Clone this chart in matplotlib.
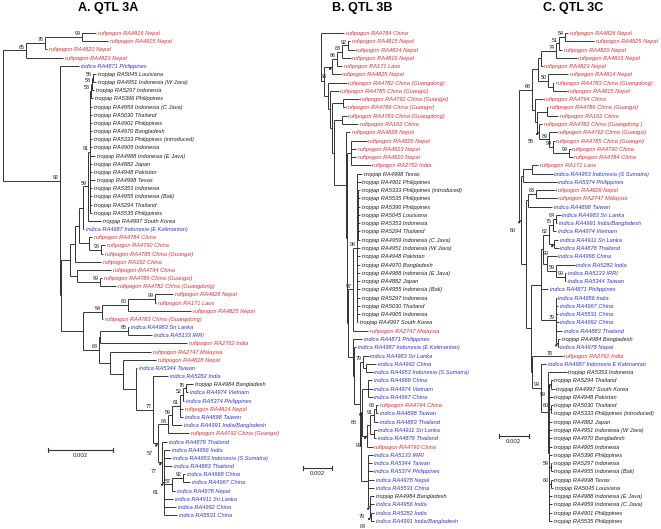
"""Neighbour-joining trees for the three QTL 3 regions (A, B, C)."""

import matplotlib

matplotlib.use("Agg")
import matplotlib.pyplot as plt

# Tree data. Leaf = (label, depth); node = (depth, support, [children]).
# Depth is measured from the root in tree units; a trailing "*" on the
# support value means the value is shown with a small arrow.
# SCALE_* gives the number of tree units that equals 0.002 substitutions/site.

TROP_A = [
    "tropjap RA4959 Indonesia (C Java)", "tropjap RA5030 Thailand",
    "tropjap RA4901 Philippines", "tropjap RA4970 Bangladesh",
    "tropjap RA5333 Philippines (introduced)", "tropjap RA4905 Indonesia",
]
TROP_A_TAIL = [
    "tropjap RA4882 Japan", "tropjap RA4948 Pakistan",
]
TROP_A_END = [
    "tropjap RA5353 Indonesia", "tropjap RA4955 Indonesia (Bali)",
    "tropjap RA5294 Thailand", "tropjap RA5535 Philippines",
]

TREE_A = (0, "", [
    (23, "65", [
        (42, "76", [
            (79, "99", [("rufipogon RA4816 Nepal", 93), ("rufipogon RA4815 Nepal", 105)]),
            ("rufipogon RA4820 Nepal", 44),
        ]),
        ("rufipogon RA4823 Nepal", 60),
    ]),
    (57, "92", [
        ("indica RA4871 Philippines", 76),
        (58, "", [
            (67, "", [
                (72, "", [
                    (76, "", [
                        (80, "", [
                            (85, "59", [
                                (87, "91", [
                                    (88, "53", [
                                        (89, "53", [
                                            (90, "56", [("tropjap RA5045 Louisiana", 93),
                                                        ("tropjap RA4951 Indonesia (W Java)", 93)]),
                                            ("tropjap RA5297 Indonesia", 91),
                                        ]),
                                        ("tropjap RA5396 Philippines", 90),
                                    ]),
                                    *[(n, 89) for n in TROP_A],
                                    ("tropjap RA4988 Indonesia (E Java)", 92),
                                    *[(n, 89) for n in TROP_A_TAIL],
                                    ("tropjap RA4998 Texas", 92),
                                    *[(n, 89) for n in TROP_A_END],
                                ]),
                                ("tropjap RA4997 South Korea", 98),
                            ]),
                            ("indica RA4987 Indonesia (E Kalimantan)", 81),
                        ]),
                        (86, "", [
                            ("rufipogon RA4784 China", 89),
                            (98, "96", [("rufipogon RA4790 China", 102),
                                        ("rufipogon RA4785 China (Guangxi)", 100)]),
                        ]),
                    ]),
                    ("rufipogon RA162 China", 98),
                ]),
                (74, "", [
                    ("rufipogon RA4794 China", 108),
                    (97, "99", [("rufipogon RA4786 China (Guangxi)", 99),
                                ("rufipogon RA4782 China (Guangdong)", 113)]),
                ]),
            ]),
            (80, "", [
                (99, "54", [
                    (125, "80", [
                        (152, "99", [("rufipogon RA4826 Nepal", 170), ("rufipogon RA171 Laos", 153)]),
                        ("rufipogon RA4825 Nepal", 188),
                    ]),
                    ("rufipogon RA4783 China (Guangdong)", 100),
                ]),
                (96, "63", [
                    (97, "", [
                        (125, "65", [("indica RA4983 Sri Lanka", 126), ("indica RA5133 IRRI", 149)]),
                        ("rufipogon RA2762 India", 184),
                    ]),
                    (107, "", [
                        ("rufipogon RA2747 Malaysia", 148),
                        (120, "", [
                            ("rufipogon RA4828 Nepal", 153),
                            (133, "", [
                                ("indica RA5344 Taiwan", 134),
                                (150, "77", [
                                    ("indica RA5282 India", 165),
                                    (155, "57*", [
                                        (165, "84", [
                                            (169, "59", [
                                                (177, "61", [
                                                    (180, "52", [
                                                        (183, "76", [("tropjap RA4984 Bangladesh", 190),
                                                                     ("indica RA4974 Vietnam", 185)]),
                                                        ("indica RA5374 Philippines", 181),
                                                    ]),
                                                    ("rufipogon RA4814 Nepal", 180),
                                                    ("indica RA4898 Taiwan", 180),
                                                ]),
                                                ("indica RA4991 India/Bangladesh", 179),
                                            ]),
                                            ("rufipogon RA4792 China (Guangxi)", 186),
                                        ]),
                                        (159, "77*", [
                                            ("indica RA4878 Thailand", 164),
                                            (161, "61*", [
                                                ("indica RA4956 India", 167),
                                                ("indica RA4953 Indonesia (S Sumatra)", 168),
                                                ("indica RA4883 Thailand", 169),
                                                (169, "57", [
                                                    (180, "92", [("indica RA4968 China", 182),
                                                                 ("indica RA4967 China", 187)]),
                                                    ("indica RA4978 Nepal", 172),
                                                ]),
                                                ("indica RA4911 Sri Lanka", 170),
                                                ("indica RA4992 China", 173),
                                                ("indica RA5531 China", 174),
                                            ]),
                                        ]),
                                    ]),
                                ]),
                            ]),
                        ]),
                    ]),
                ]),
            ]),
        ]),
    ]),
])

TROP_B_CORE = [
    "tropjap RA5333 Philippines (introduced)", "tropjap RA5535 Philippines",
    "tropjap RA5396 Philippines", "tropjap RA5045 Louisiana",
    "tropjap RA5353 Indonesia", "tropjap RA5294 Thailand",
    "tropjap RA4959 Indonesia (C Java)",
]
TROP_B_REST = [
    "tropjap RA4951 Indonesia (W Java)", "tropjap RA4948 Pakistan",
    "tropjap RA4970 Bangladesh", "tropjap RA4988 Indonesia (E Java)",
    "tropjap RA4882 Japan", "tropjap RA4955 Indonesia (Bali)",
    "tropjap RA5297 Indonesia", "tropjap RA5030 Thailand",
]

TREE_B = (0, "", [
    ("rufipogon RA4784 China", 23),
    (3, "", [
        (11, "54*", [
            (16, "86", [
                (21, "83", [
                    (27, "92", [("rufipogon RA4815 Nepal", 28.5), ("rufipogon RA4814 Nepal", 33.5)]),
                    ("rufipogon RA4816 Nepal", 29.5),
                ]),
                ("rufipogon RA171 Laos", 20.5),
            ]),
            ("rufipogon RA4825 Nepal", 19.5),
        ]),
        (7, "", [
            ("rufipogon RA4782 China (Guangdong)", 25.5),
            (9, "", [
                ("rufipogon RA4785 China (Guangxi)", 17.5),
                (11, "", [
                    (22, "", [("rufipogon RA4792 China (Guangxi)", 37.5),
                              ("rufipogon RA4786 China (Guangxi)", 23.5)]),
                    (13, "", [
                        (21, "", [("rufipogon RA4783 China (Guangdong)", 25.5),
                                  ("rufipogon RA162 China", 36.5)]),
                        (25, "", [
                            ("rufipogon RA4828 Nepal", 28.5),
                            (26, "", [
                                (30, "", [("rufipogon RA4826 Nepal", 45.5), ("rufipogon RA4823 Nepal", 34.5),
                                          ("rufipogon RA4820 Nepal", 34.5), ("rufipogon RA2762 India", 49.5)]),
                                (27, "", [
                                    (32, "97", [
                                        (36, "98", [
                                            ("tropjap RA4998 Texas", 41),
                                            ("tropjap RA4901 Philippines", 39.5),
                                            (37, "", [(n, 39) for n in TROP_B_CORE]),
                                            *[(n, 38.5) for n in TROP_B_REST],
                                            ("tropjap RA4905 Indonesia", 39),
                                            ("tropjap RA4997 South Korea", 37),
                                        ]),
                                        ("rufipogon RA2747 Malaysia", 46.5),
                                    ]),
                                    (32, "", [
                                        ("indica RA4871 Philippines", 40.5),
                                        (33, "", [
                                            ("indica RA4987 Indonesia (E Kalimantan)", 34.5),
                                            (39, "", [
                                                (42, "79", [
                                                    ("indica RA4983 Sri Lanka", 47.5),
                                                    (45, "", [("indica RA4992 China", 54.5),
                                                              ("indica RA4953 Indonesia (S Sumatra)", 51.5)]),
                                                ]),
                                                (40, "", [
                                                    (41, "66*", [
                                                        (47, "", [("indica RA4968 China", 50.5),
                                                                  ("indica RA4974 Vietnam", 51.5),
                                                                  ("indica RA4967 China", 51.5)]),
                                                        (46, "99*", [
                                                            (49, "", [
                                                                (53, "91", [
                                                                    (55, "93", [("rufipogon RA4794 China", 56.5),
                                                                                ("indica RA4898 Taiwan", 56.5)]),
                                                                    ("indica RA4883 Thailand", 56.5),
                                                                ]),
                                                                (53, "", [("indica RA4911 Sri Lanka", 55.5),
                                                                          ("indica RA4878 Thailand", 54.5)]),
                                                            ]),
                                                            ("rufipogon RA4790 China", 51.5),
                                                        ]),
                                                    ]),
                                                    (47, "", [
                                                        ("indica RA5133 IRRI", 51.5),
                                                        ("indica RA5344 Taiwan", 50.5),
                                                        ("indica RA5374 Philippines", 51.5),
                                                        ("indica RA4978 Nepal", 52.5),
                                                        ("indica RA5531 China", 52.5),
                                                        (49, "79*", [
                                                            ("tropjap RA4984 Bangladesh", 52.5),
                                                            ("indica RA4956 India", 52.5),
                                                            (50, "84*", [("indica RA5282 India", 52.5),
                                                                         ("indica RA4991 India/Bangladesh", 52.5)]),
                                                        ]),
                                                    ]),
                                                ]),
                                            ]),
                                        ]),
                                    ]),
                                ]),
                            ]),
                        ]),
                    ]),
                ]),
            ]),
        ]),
    ]),
])

TROP_C_MID = [
    "tropjap RA4882 Japan",
    "tropjap RA4951 Indonesia (W Java)", "tropjap RA4970 Bangladesh",
    "tropjap RA4905 Indonesia", "tropjap RA5396 Philippines",
]
TROP_C_END = [
    "tropjap RA4988 Indonesia (E Java)", "tropjap RA4959 Indonesia (C Java)",
    "tropjap RA4901 Philippines", "tropjap RA5535 Philippines",
]

TREE_C = (0, "", [
    (13, "68", [
        (19, "", [
            (22, "", [
                (37, "74", [
                    (40, "51", [
                        (46, "54", [("rufipogon RA4826 Nepal", 48.5), ("rufipogon RA4825 Nepal", 74.5)]),
                        ("rufipogon RA4820 Nepal", 42.5),
                    ]),
                    ("rufipogon RA4816 Nepal", 57.5),
                ]),
                ("rufipogon RA4823 Nepal", 23.5),
            ]),
            (29, "50", [
                ("rufipogon RA4814 Nepal", 48.5),
                (34, "", [("rufipogon RA4783 China (Guangdong)", 34.5), ("rufipogon RA4815 Nepal", 47.5)]),
            ]),
        ]),
        (16, "", [
            ("rufipogon RA4794 China", 23.5),
            (18, "", [
                (28, "", [("rufipogon RA4786 China (Guangxi)", 28.5), ("rufipogon RA162 China", 38.5)]),
                (20, "55*", [
                    ("rufipogon RA4782 China (Guangdong )", 22.5),
                    (30, "89", [
                        ("rufipogon RA4792 China (Guangxi)", 37.5),
                        (34, "99", [
                            ("rufipogon RA4785 China (Guangxi)", 35.5),
                            (50, "99", [("rufipogon RA4790 China", 51.5), ("rufipogon RA4784 China", 53.5)]),
                        ]),
                    ]),
                ]),
            ]),
        ]),
    ]),
    (2, "60*", [
        (4, "", [
            (13, "", [("rufipogon RA171 Laos", 18.5), ("indica RA4953 Indonesia (S Sumatra)", 33.5)]),
            ("indica RA5374 Philippines", 37.5),
        ]),
        (7, "", [
            (9, "", [
                (17, "63", [("rufipogon RA4828 Nepal", 35.5), ("rufipogon RA2747 Malaysia", 37.5)]),
                ("indica RA4898 Taiwan", 32.5),
            ]),
            (12, "", [
                (22, "", [
                    (24, "", [
                        (30, "82", [
                            (34, "75", [
                                (37, "84", [("indica RA4983 Sri Lanka", 41.5),
                                            ("indica RA4991 India/Bangladesh", 38)]),
                                ("indica RA4974 Vietnam", 36.5),
                            ]),
                            (35, "99*", [("indica RA4911 Sri Lanka", 38.5), ("indica RA4878 Thailand", 39.5)]),
                        ]),
                        (28, "", [
                            ("indica RA4968 China", 37.5),
                            (37, "59", [
                                ("indica RA5282 India", 55.5),
                                (46, "99", [("indica RA5133 IRRI", 46.5), ("indica RA5344 Taiwan", 46.5)]),
                            ]),
                        ]),
                    ]),
                    ("indica RA4871 Philippines", 28.5),
                    (37, "79", [
                        ("indica RA4956 India", 37.5),
                        ("indica RA4967 China", 38.5),
                        ("indica RA5531 China", 38.5),
                        ("indica RA4992 China", 39.5),
                        ("indica RA4883 Thailand", 42.5),
                        (39, "78*", [("tropjap RA4984 Bangladesh", 40.5), ("indica RA4978 Nepal", 39.5)]),
                    ]),
                ]),
                (13, "", [
                    ("rufipogon RA2762 India", 43.5),
                    (22, "99", [
                        ("indica RA4987 Indonesia E Kalimantan", 26.5),
                        (29, "", [
                            ("tropjap RA5353 Indonesia", 47.5),
                            (30, "", [
                                (32, "99*", [("tropjap RA5294 Thailand", 33.5),
                                             ("tropjap RA4997 South Korea", 35.5)]),
                                ("tropjap RA4948 Pakistan", 33.5),
                                (31.5, "60", [("tropjap RA5030 Thailand", 33.5),
                                              ("tropjap RA5333 Philippines (introduced)", 32.5)]),
                                *[(n, 32.5) for n in TROP_C_MID],
                                (31.5, "59", [("tropjap RA5297 Indonesia", 32.5),
                                              ("tropjap RA4955 Indonesia (Bali)", 33.5)]),
                                (31.5, "60", [("tropjap RA4998 Texas", 33.5),
                                              ("tropjap RA5045 Louisiana", 34)]),
                                *[(n, 32.5) for n in TROP_C_END],
                            ]),
                        ]),
                    ]),
                ]),
            ]),
        ]),
    ]),
])

SCALE_A = 65
SCALE_B = 29
SCALE_C = 29.5
SCALE_TEXT = "0.002"
TITLES = ["A. QTL 3A", "B. QTL 3B", "C. QTL 3C"]

# Layout of each panel in output pixels:
# (left, right, root x, first leaf y, leaf spacing, scalebar x, scalebar y, title x)
FIG_W, FIG_H = 661, 529
PANELS = [
    (0, 220, 3, 33, 8.17, 48, 450, 108),
    (220, 441, 321, 33, 8.27, 303, 468, 362),
    (441, 661, 519, 33, 8.27, 499, 436, 573),
]

RED = "#E0282E"
BLUE = "#3030CC"
BLACK = "#1E1E1E"
LINE = "#333333"
FONT = ["Liberation Sans", "DejaVu Sans"]
LEAF_FS = 4.1
SUP_FS = 3.9


def leaf_color(name):
    if name.startswith("rufipogon"):
        return RED
    if name.startswith("indica"):
        return BLUE
    return BLACK


def draw_tree(ax, tree):
    counter = [0]

    def walk(node):
        if isinstance(node[0], str):
            name, depth = node
            y = counter[0]
            counter[0] += 1
            ax.annotate(name, (depth, y), xytext=(2, 0), textcoords="offset pixels",
                        ha="left", va="center_baseline", fontsize=LEAF_FS,
                        style="italic", color=leaf_color(name), family=FONT,
                        annotation_clip=False)
            return depth, y
        depth, sup, kids = node
        pos = [walk(k) for k in kids]
        for d, yk in pos:
            ax.plot([depth, d], [yk, yk], color=LINE, lw=0.7, solid_capstyle="butt")
        ax.plot([depth, depth], [pos[0][1], pos[-1][1]], color=LINE, lw=0.7,
                solid_capstyle="butt")
        y = (pos[0][1] + pos[-1][1]) / 2
        if sup.endswith("*"):
            ax.annotate(sup[:-1], (depth, y), xytext=(-8, -10), textcoords="offset pixels",
                        ha="center", va="center", fontsize=SUP_FS, color=BLACK,
                        family=FONT, annotation_clip=False,
                        arrowprops=dict(arrowstyle="-|>", lw=0.5, color=BLACK,
                                        mutation_scale=3, shrinkA=1.5, shrinkB=0.5))
        elif sup:
            ax.annotate(sup, (depth, y), xytext=(-1.5, 0.8), textcoords="offset pixels",
                        ha="right", va="bottom", fontsize=SUP_FS, color=BLACK,
                        family=FONT, annotation_clip=False)
        return depth, y

    walk(tree)


def main():
    fig = plt.figure(figsize=(FIG_W / 100, FIG_H / 100), dpi=100)
    trees = [TREE_A, TREE_B, TREE_C]
    scales = [SCALE_A, SCALE_B, SCALE_C]

    for tree, scale, title, panel in zip(trees, scales, TITLES, PANELS):
        left, right, root, y0, step, sb_x, sb_y, title_x = panel
        ax = fig.add_axes([left / FIG_W, 0, (right - left) / FIG_W, 1])
        ax.set_axis_off()
        ax.set_xlim(left - root, right - root)
        ax.set_ylim((FIG_H - y0) / step, -y0 / step)

        draw_tree(ax, tree)

        # scale bar
        x0 = sb_x - root
        yb = (sb_y - y0) / step
        tick = 2.2 / step
        ax.plot([x0, x0 + scale], [yb, yb], color=LINE, lw=0.8)
        ax.plot([x0, x0], [yb - tick, yb + tick], color=LINE, lw=0.8)
        ax.plot([x0 + scale, x0 + scale], [yb - tick, yb + tick], color=LINE, lw=0.8)
        ax.annotate(SCALE_TEXT, (x0 + scale / 2, yb), xytext=(0, -3),
                    textcoords="offset pixels", ha="center", va="top",
                    fontsize=4.3, color=BLACK, family=FONT)

        fig.text(title_x / FIG_W, 1 - 8.5 / FIG_H, title, ha="center", va="center",
                 fontsize=9, fontweight="bold", family=FONT)

    fig.savefig("out.png", dpi=100)
    plt.close(fig)


if __name__ == "__main__":
    main()
